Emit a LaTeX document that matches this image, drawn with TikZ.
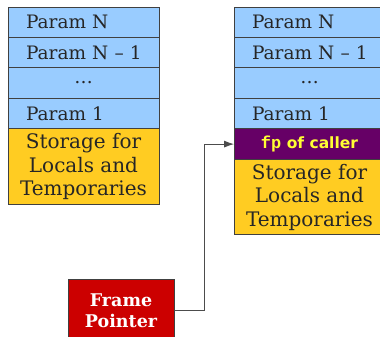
\documentclass[tikz,border=0pt]{standalone}
\usepackage{fontspec}
\setmainfont{DejaVu Serif}
\setsansfont{DejaVu Sans}
\setmonofont{Liberation Mono}
\usetikzlibrary{positioning,arrows.meta}
\definecolor{parblue}{HTML}{99CCFF}
\definecolor{storeyellow}{HTML}{FFCC22}
\definecolor{callerpurple}{HTML}{660066}
\definecolor{fpyellow}{HTML}{FFFF33}
\definecolor{fpred}{HTML}{CC0000}
\tikzset{
  cell/.style={draw=black!75, line width=0.9pt, minimum width=151pt,
    minimum height=30.4pt, inner sep=0pt, outer sep=0pt, text=black!85,
    font=\fontsize{18.5}{23.4}\selectfont},
  param/.style={cell, fill=parblue, text width=115pt, align=left},
  dotcell/.style={cell, fill=parblue, align=center},
  store/.style={cell, fill=storeyellow, minimum height=76pt, align=center,
    font=\fontsize{20}{23.4}\selectfont},
  callerfp/.style={cell, fill=callerpurple, minimum height=31pt, text=fpyellow,
    font=\fontsize{15.5}{18}\selectfont\sffamily\bfseries},
  fpbox/.style={draw=black!75, line width=0.9pt, fill=fpred, minimum width=106pt,
    minimum height=63pt, inner sep=0pt, text=white, align=center,
    font=\fontsize{17.5}{21}\selectfont\bfseries}
}
\begin{document}
\begin{tikzpicture}[x=1pt,y=-1pt]
      \useasboundingbox (0,0) rectangle (380,337);
      \node[param, anchor=north west] (lparN) at (8,7) {Param N};
      \node[param, below=0pt of lparN] (lparNm) {\mbox{Param N -- 1}};
      \node[dotcell, below=0pt of lparNm] (ldots) {\dots};
      \node[param, below=0pt of ldots] (lparOne) {Param 1};
      \node[store, below=0pt of lparOne] (lstore) {Storage for\\Locals and\\Temporaries};
      \node[param, anchor=north west] (rparN) at (234,7) {Param N};
      \node[param, below=0pt of rparN] (rparNm) {\mbox{Param N -- 1}};
      \node[dotcell, below=0pt of rparNm] (rdots) {\dots};
      \node[param, below=0pt of rdots] (rparOne) {Param 1};
      \node[callerfp, below=0pt of rparOne] (rcaller) {{\fontsize{17}{18}\selectfont\ttfamily fp} of caller};
      \node[store, below=0pt of rcaller, minimum height=75pt] (rstore) {Storage for\\Locals and\\Temporaries};
      \node[fpbox] (framept) at (121,310.5) {Frame\\Pointer};
      \draw[-{Latex[length=10pt,width=7pt]}, draw=black!70, line width=0.8pt]
        (framept.east) -- ++(30,0) |- (rcaller.west);
    \end{tikzpicture}
\end{document}
